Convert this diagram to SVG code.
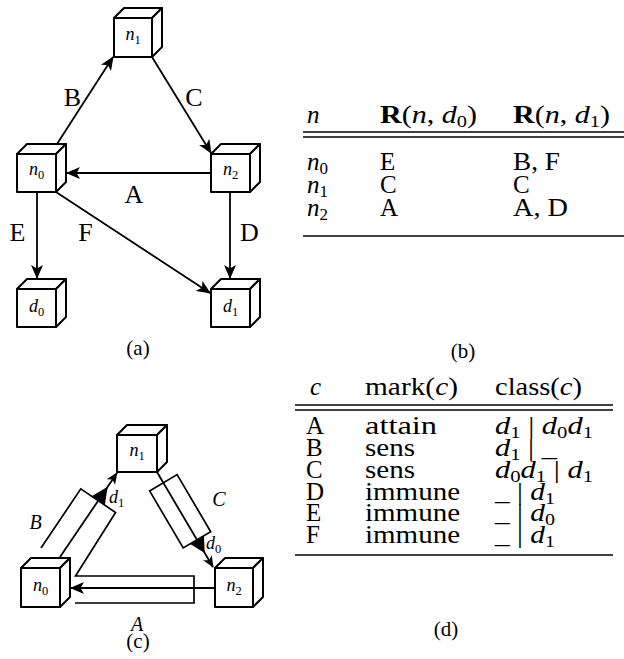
<svg xmlns="http://www.w3.org/2000/svg" width="624" height="659" viewBox="0 0 624 659">
<style>
text{font-family:"Liberation Serif","Times New Roman",serif;fill:#000}
.cube rect,.cube path{fill:#fff;stroke:#000;stroke-width:2;stroke-linejoin:round}
.edge{fill:none;stroke:#000;stroke-width:1.8}
.mark{fill:none;stroke:#000;stroke-width:1.7;stroke-linejoin:miter}
.tri{fill:#000;stroke:none}
.nl{font-size:18px;font-style:italic}
.ns{font-size:12.5px;font-style:normal}
.el{font-size:26px;text-anchor:middle}
.cl{font-size:20px;font-style:italic;text-anchor:middle}
.cap{font-size:21px;text-anchor:middle}
.t{font-size:25px}
.i{font-style:italic}
.s{font-size:17px;font-style:normal}
.rule{stroke:#000;stroke-width:1.3}
</style>
<defs>
<marker id="ar" viewBox="0 0 14 12" refX="13" refY="6" markerWidth="14" markerHeight="12" markerUnits="userSpaceOnUse" orient="auto">
<path d="M0,0 L14,6 L0,12 L3.5,6 Z" fill="#000"/>
</marker>
<marker id="ars" viewBox="0 0 14 12" refX="13" refY="6" markerWidth="12" markerHeight="10" markerUnits="userSpaceOnUse" orient="auto">
<path d="M0,0 L14,6 L0,12 L3.5,6 Z" fill="#000"/>
</marker>
</defs>
<rect width="624" height="659" fill="#fff"/>

<!-- Panel (a) connectors -->
<g id="connectors-a">
<path class="edge" d="M57,144 L113,57" marker-end="url(#ar)"/>
<path class="edge" d="M152,57 L211,153" marker-end="url(#ar)"/>
<path class="edge" d="M211,173 L67,173" marker-end="url(#ar)"/>
<path class="edge" d="M37,192 L37,278" marker-end="url(#ar)"/>
<path class="edge" d="M230,192 L230,278" marker-end="url(#ar)"/>
<path class="edge" d="M56,192 L210,293" marker-end="url(#ar)"/>
<text class="el" x="72.5" y="106">B</text>
<text class="el" x="194" y="106">C</text>
<text class="el" x="134" y="203">A</text>
<text class="el" x="17.5" y="241">E</text>
<text class="el" x="85.5" y="241">F</text>
<text class="el" x="249.5" y="241">D</text>
</g>

<!-- Panel (a) nodes -->
<g id="a-n1" class="cube"><rect x="114" y="18" width="38" height="39"/><path d="M114,18 l10,-10 h38 l-10,10 z"/><path d="M152,18 l10,-10 v39 l-10,10 z"/><text class="nl" x="133" y="40" text-anchor="middle">n<tspan class="ns" dy="4">1</tspan></text></g>
<g id="a-n0" class="cube"><rect x="17" y="154" width="39" height="38"/><path d="M17,154 l10,-10 h39 l-10,10 z"/><path d="M56,154 l10,-10 v38 l-10,10 z"/><text class="nl" x="36.5" y="175" text-anchor="middle">n<tspan class="ns" dy="4">0</tspan></text></g>
<g id="a-n2" class="cube"><rect x="211" y="154" width="39" height="38"/><path d="M211,154 l10,-10 h39 l-10,10 z"/><path d="M250,154 l10,-10 v38 l-10,10 z"/><text class="nl" x="230.5" y="175" text-anchor="middle">n<tspan class="ns" dy="4">2</tspan></text></g>
<g id="a-d0" class="cube"><rect x="17" y="289" width="39" height="38"/><path d="M17,289 l10,-10 h39 l-10,10 z"/><path d="M56,289 l10,-10 v38 l-10,10 z"/><text class="nl" x="36.5" y="312" text-anchor="middle">d<tspan class="ns" dy="4">0</tspan></text></g>
<g id="a-d1" class="cube"><rect x="211" y="289" width="39" height="38"/><path d="M211,289 l10,-10 h39 l-10,10 z"/><path d="M250,289 l10,-10 v38 l-10,10 z"/><text class="nl" x="230.5" y="312" text-anchor="middle">d<tspan class="ns" dy="4">1</tspan></text></g>
<text class="cap" x="138" y="355">(a)</text>

<!-- Panel (b) table -->
<g id="table-b">
<line class="rule" x1="303" y1="132" x2="624" y2="132"/>
<line class="rule" x1="303" y1="137" x2="624" y2="137"/>
<line class="rule" x1="303" y1="236" x2="624" y2="236"/>
<text class="t i" x="307" y="123">n</text>
<text class="t" x="380" y="123" textLength="97" lengthAdjust="spacingAndGlyphs"><tspan font-weight="bold">R</tspan>(<tspan class="i">n</tspan>, <tspan class="i">d</tspan><tspan class="s" dy="4">0</tspan><tspan dy="-4">)</tspan></text>
<text class="t" x="513" y="123" textLength="97" lengthAdjust="spacingAndGlyphs"><tspan font-weight="bold">R</tspan>(<tspan class="i">n</tspan>, <tspan class="i">d</tspan><tspan class="s" dy="4">1</tspan><tspan dy="-4">)</tspan></text>
<text class="t" x="307" y="170"><tspan class="i">n</tspan><tspan class="s" dy="4">0</tspan></text>
<text class="t" x="380" y="170">E</text>
<text class="t" x="513" y="170" textLength="47" lengthAdjust="spacingAndGlyphs">B, F</text>
<text class="t" x="307" y="193"><tspan class="i">n</tspan><tspan class="s" dy="4">1</tspan></text>
<text class="t" x="380" y="193">C</text>
<text class="t" x="513" y="193">C</text>
<text class="t" x="307" y="216"><tspan class="i">n</tspan><tspan class="s" dy="4">2</tspan></text>
<text class="t" x="380" y="216">A</text>
<text class="t" x="513" y="216" textLength="55" lengthAdjust="spacingAndGlyphs">A, D</text>
</g>
<text class="cap" x="463" y="358">(b)</text>

<!-- Panel (c) marks -->
<g id="marks-c">
<path class="mark" d="M41,548 L80.8,488.9 L115.6,512.5 L75.5,576 H194 V603 H75"/>
<path class="mark" d="M149.6,490.9 L177.1,474.6 L210.7,531.7 L183.2,547.9 Z"/>
</g>
<!-- Panel (c) connectors -->
<g id="connectors-c">
<path class="edge" d="M60,557 L117,473" marker-end="url(#ars)"/>
<path class="edge" d="M157,472 L213,567" marker-end="url(#ars)"/>
<path class="edge" d="M215,588 L71,588" marker-end="url(#ar)"/>
<path class="tri" d="M91.6,496.2 L104.8,505.2 L107.7,486.7 Z"/>
<path class="tri" d="M204.0,535.9 L190.2,544.1 L204.7,553.0 Z"/>
<text class="nl" x="109" y="503">d<tspan class="ns" dy="4">1</tspan></text>
<text class="nl" x="206" y="549">d<tspan class="ns" dy="4">0</tspan></text>
<text class="cl" x="35.5" y="529">B</text>
<text class="cl" x="219" y="506">C</text>
<text class="cl" x="137" y="631">A</text>
</g>
<!-- Panel (c) nodes -->
<g id="c-n1" class="cube"><rect x="117" y="435" width="40" height="37"/><path d="M117,435 l10,-10 h40 l-10,10 z"/><path d="M157,435 l10,-10 v37 l-10,10 z"/><text class="nl" x="137" y="456" text-anchor="middle">n<tspan class="ns" dy="4">1</tspan></text></g>
<g id="c-n0" class="cube"><rect x="21" y="568" width="39" height="39"/><path d="M21,568 l10,-10 h39 l-10,10 z"/><path d="M60,568 l10,-10 v39 l-10,10 z"/><text class="nl" x="40.5" y="591" text-anchor="middle">n<tspan class="ns" dy="4">0</tspan></text></g>
<g id="c-n2" class="cube"><rect x="215" y="568" width="38" height="39"/><path d="M215,568 l10,-10 h38 l-10,10 z"/><path d="M253,568 l10,-10 v39 l-10,10 z"/><text class="nl" x="234" y="591" text-anchor="middle">n<tspan class="ns" dy="4">2</tspan></text></g>
<text class="cap" x="138" y="648">(c)</text>

<!-- Panel (d) table -->
<g id="table-d">
<line class="rule" x1="295" y1="405" x2="613" y2="405"/>
<line class="rule" x1="295" y1="410" x2="613" y2="410"/>
<line class="rule" x1="295" y1="555" x2="613" y2="555"/>
<text class="t i" x="310" y="395">c</text>
<text class="t" x="365" y="395" textLength="93" lengthAdjust="spacingAndGlyphs">mark(<tspan class="i">c</tspan>)</text>
<text class="t" x="495" y="395" textLength="87" lengthAdjust="spacingAndGlyphs">class(<tspan class="i">c</tspan>)</text>

<text class="t" x="306" y="434">A</text>
<text class="t" x="365" y="434" textLength="72" lengthAdjust="spacingAndGlyphs">attain</text>
<text class="t" x="495" y="434" textLength="98" lengthAdjust="spacingAndGlyphs"><tspan class="i">d</tspan><tspan class="s" dy="4">1</tspan><tspan dy="-4"> | </tspan><tspan class="i">d</tspan><tspan class="s" dy="4">0</tspan><tspan class="i" dy="-4">d</tspan><tspan class="s" dy="4">1</tspan></text>

<text class="t" x="306" y="456">B</text>
<text class="t" x="365" y="456" textLength="50" lengthAdjust="spacingAndGlyphs">sens</text>
<text class="t" x="495" y="456" textLength="62" lengthAdjust="spacingAndGlyphs"><tspan class="i">d</tspan><tspan class="s" dy="4">1</tspan><tspan dy="-4"> | _</tspan></text>

<text class="t" x="306" y="478">C</text>
<text class="t" x="365" y="478" textLength="50" lengthAdjust="spacingAndGlyphs">sens</text>
<text class="t" x="495" y="478" textLength="98" lengthAdjust="spacingAndGlyphs"><tspan class="i">d</tspan><tspan class="s" dy="4">0</tspan><tspan class="i" dy="-4">d</tspan><tspan class="s" dy="4">1</tspan><tspan dy="-4"> | </tspan><tspan class="i">d</tspan><tspan class="s" dy="4">1</tspan></text>

<text class="t" x="306" y="500">D</text>
<text class="t" x="365" y="500" textLength="95" lengthAdjust="spacingAndGlyphs">immune</text>
<text class="t" x="495" y="500" textLength="60" lengthAdjust="spacingAndGlyphs">_ | <tspan class="i">d</tspan><tspan class="s" dy="4">1</tspan></text>

<text class="t" x="306" y="521">E</text>
<text class="t" x="365" y="521" textLength="95" lengthAdjust="spacingAndGlyphs">immune</text>
<text class="t" x="495" y="521" textLength="60" lengthAdjust="spacingAndGlyphs">_ | <tspan class="i">d</tspan><tspan class="s" dy="4">0</tspan></text>

<text class="t" x="306" y="543">F</text>
<text class="t" x="365" y="543" textLength="95" lengthAdjust="spacingAndGlyphs">immune</text>
<text class="t" x="495" y="543" textLength="60" lengthAdjust="spacingAndGlyphs">_ | <tspan class="i">d</tspan><tspan class="s" dy="4">1</tspan></text>
</g>
<text class="cap" x="446" y="636">(d)</text>
</svg>
